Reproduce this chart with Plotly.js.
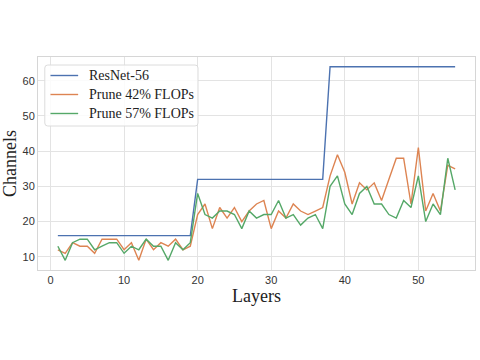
<!DOCTYPE html>
<html>
<head>
<meta charset="utf-8">
<script src="https://cdn.plot.ly/plotly-3.0.1.min.js"></script>
<style>html,body{margin:0;padding:0;background:#fff;}#chart{width:480px;height:360px;}</style>
</head>
<body>
<div id="chart"></div>
<script>
const layers = Array.from({length: 55}, (_, i) => i + 1);
const resnet56 = [
  16,16,16,16,16,16,16,16,16,16,16,16,16,16,16,16,16,16,16,
  32,32,32,32,32,32,32,32,32,32,32,32,32,32,32,32,32,32,
  64,64,64,64,64,64,64,64,64,64,64,64,64,64,64,64,64,64
];
const prune42 = [
  12,11,14,13,13,11,15,15,15,12,14,9,15,12,14,13,15,12,13,
  22,25,18,24,21,24,20,23,25,26,18,23,21,25,23,22,23,24,
  33,39,34,25,31,29,31,26,32,38,38,25,41,23,28,23,36,35
];
const prune57 = [
  13,9,14,15,15,12,13,14,14,11,13,12,15,13,13,9,14,12,14,
  28,22,21,23,23,22,18,23,21,22,22,26,21,22,19,21,22,18,
  30,33,25,22,28,30,25,25,22,21,26,24,33,20,25,22,38,29
];
const names = ['ResNet-56', 'Prune 42% FLOPs', 'Prune 57% FLOPs'];
const colors = ['#4c72b0', '#dd8452', '#55a868'];

const W = 480, H = 360;
const M = {l: 37.5, r: 5, t: 57, b: 90};
const PW = W - M.l - M.r, PH = H - M.t - M.b;
const px = v => (v - M.l) / PW;          // pixel x -> paper
const py = v => (H - M.b - v) / PH;      // pixel y -> paper

const series = [resnet56, prune42, prune57];
const data = series.map((s, i) => ({
  x: layers, y: s, type: 'scatter', mode: 'lines', name: names[i],
  line: {color: colors[i], width: 1.4}, showlegend: false
}));

// legend box (rounded) drawn as layout shapes/annotations
const bx0 = 44.3, bx1 = 197.7, by0 = 65, by1 = 126, r = 3;
const roundRect = `M ${bx0 + r},${by0} L ${bx1 - r},${by0} Q ${bx1},${by0} ${bx1},${by0 + r} ` +
  `L ${bx1},${by1 - r} Q ${bx1},${by1} ${bx1 - r},${by1} L ${bx0 + r},${by1} ` +
  `Q ${bx0},${by1} ${bx0},${by1 - r} L ${bx0},${by0 + r} Q ${bx0},${by0} ${bx0 + r},${by0} Z`;
const pathPaper = roundRect.replace(/(-?[\d.]+),(-?[\d.]+)/g, (m, a, b) => `${px(+a)},${py(+b)}`);

const rowsY = [75.5, 94.5, 113.5];
const shapes = [{
  type: 'path', xref: 'paper', yref: 'paper', path: pathPaper,
  fillcolor: 'rgba(255,255,255,0.85)', line: {color: '#dcdcdc', width: 1}, layer: 'above'
}];
const annotations = [];
names.forEach((n, i) => {
  shapes.push({
    type: 'line', xref: 'paper', yref: 'paper',
    x0: px(50), x1: px(77.7), y0: py(rowsY[i]), y1: py(rowsY[i]),
    line: {color: colors[i], width: 1.4}, layer: 'above'
  });
  annotations.push({
    xref: 'paper', yref: 'paper', x: px(86.5), y: py(rowsY[i]),
    xanchor: 'left', yanchor: 'middle', showarrow: false, text: n,
    font: {family: 'Liberation Serif, Times New Roman, serif', size: 14, color: '#222'}
  });
});

const axisCommon = {
  showgrid: true, gridcolor: '#e3e3e3', gridwidth: 1,
  showline: true, mirror: true, linecolor: '#d6d6d6', linewidth: 1,
  zeroline: false, ticks: '',
  tickfont: {family: 'Liberation Sans, Arial, sans-serif', size: 11, color: '#333'}
};

const layout = {
  width: W, height: H,
  margin: M,
  paper_bgcolor: '#fff', plot_bgcolor: '#fff',
  showlegend: false,
  shapes: shapes,
  annotations: annotations,
  xaxis: Object.assign({}, axisCommon, {
    range: [-1.7, 57.7], tickvals: [0, 10, 20, 30, 40, 50],
    title: {text: 'Layers', font: {family: 'Liberation Serif, Times New Roman, serif', size: 18, color: '#222'}, standoff: 2}
  }),
  yaxis: Object.assign({}, axisCommon, {
    range: [6.25, 66.75], tickvals: [10, 20, 30, 40, 50, 60],
    title: {text: 'Channels', font: {family: 'Liberation Serif, Times New Roman, serif', size: 18, color: '#222'}, standoff: 6}
  })
};

Plotly.newPlot('chart', data, layout, {displayModeBar: false, staticPlot: true});
</script>
</body>
</html>
